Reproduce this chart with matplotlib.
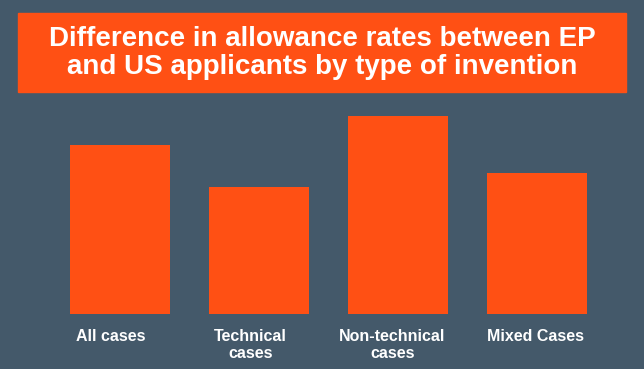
import matplotlib.pyplot as plt
from matplotlib.patches import Rectangle

categories = ["All cases", "Technical\ncases", "Non-technical\ncases", "Mixed Cases"]
values = [8.55, 6.4, 10.0, 7.1]
label_shift = [-0.07, -0.06, -0.04, -0.01]

bg = "#44596a"
orange = "#ff5014"

fig = plt.figure(figsize=(6.44, 3.69), dpi=100)
fig.patch.set_facecolor(bg)
plt.rcParams['font.family'] = ['Liberation Sans', 'DejaVu Sans']

ax = fig.add_axes([50.5 / 644, 55 / 369, 556 / 644, 198 / 369])
ax.set_facecolor(bg)
x = range(len(categories))
ax.bar(x, values, width=100 / 139, color=orange)
ax.set_xlim(-0.5, 3.5)
ax.set_ylim(0, 10)
ax.axis("off")

for i, lab in enumerate(categories):
    ax.text(i + label_shift[i], -0.75, lab, ha="center", va="top", color="white",
            fontsize=11.5, fontweight="bold", linespacing=1.15)

# title box
fig.patches.append(Rectangle((18 / 644, 1 - 92 / 369), 608 / 644, 79 / 369,
                             transform=fig.transFigure, color=orange))
fig.text(322 / 644, 1 - 53 / 369,
         "Difference in allowance rates between EP\nand US applicants by type of invention",
         ha="center", va="center", color="white", fontsize=20,
         fontweight="bold", linespacing=1.15)

fig.savefig("out.png", dpi=100, facecolor=bg)
